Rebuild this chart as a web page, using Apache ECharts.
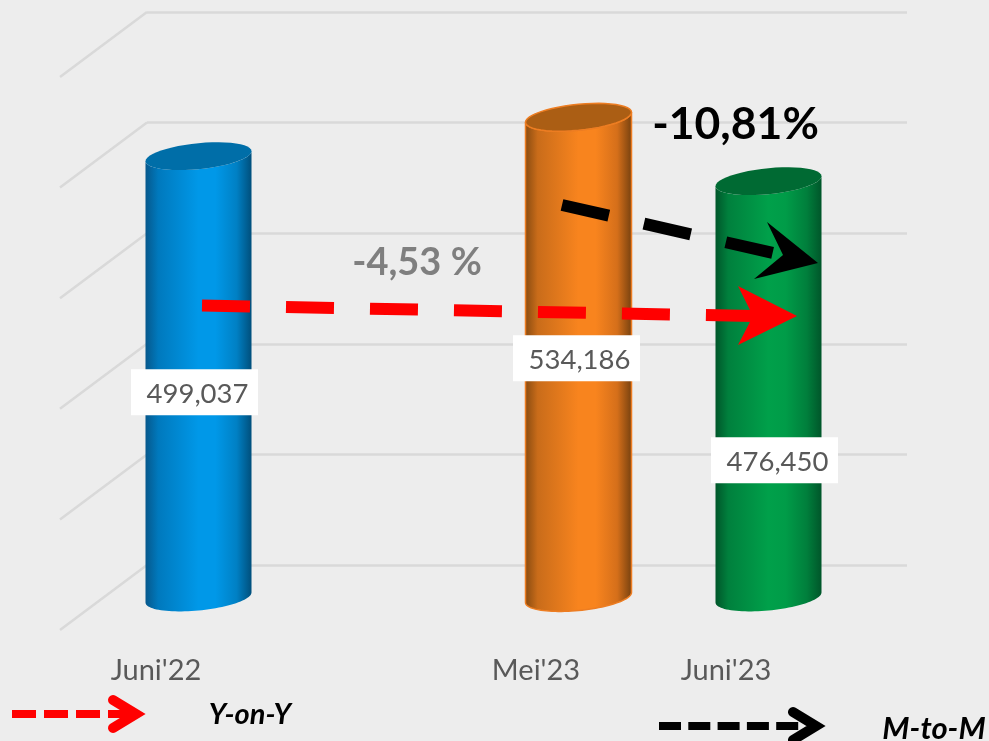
<!DOCTYPE html>
<html>
<head>
<meta charset="utf-8">
<script src="https://cdn.jsdelivr.net/npm/echarts@6/dist/echarts.min.js"></script>
<style>
html, body { margin: 0; padding: 0; background: #ededed; overflow: hidden; }
#chart { width: 989px; height: 741px; }
</style>
</head>
<body>
<div id="chart"></div>
<script>
// data
var categories = ["Juni'22", "", "Mei'23", "Juni'23"];
var values = [499037, null, 534186, 476450];
var yTicks = [100000, 200000, 300000, 400000, 500000, 600000];
var yoyText = "-4,53 %";
var mtmText = "-10,81%";

// look of the fake 3d chart
var depth = [-87, 65]; // floor depth, back wall -> front edge
var cylRadius = 53;
var cylTilt = 5; // right side of the ellipse sits higher
var cylFlat = 13;
var fontName = "Lato, sans-serif";
var stopAt = [0, 0.12, 0.5, 0.66, 0.86, 1];
var cylColors = [
  { stops: ["#06588c", "#0079bd", "#0098e8", "#0098e8", "#0080c4", "#004f7c"], cap: "#006ea8", line: null },
  null,
  { stops: ["#864a10", "#c96c1a", "#f8841e", "#f8841e", "#d56f1a", "#74400f"], cap: "#ab5e14", line: "#ed7d22" },
  { stops: ["#00562a", "#00803d", "#00a04a", "#009c48", "#007f3c", "#00562a"], cap: "#006a33", line: null }
];
var labelShift = [[-4, 236], null, [-2, 241], [6, 279]]; // white box, from the top of the cylinder

function ellipsePoints(cx, cy, from, to) {
  var pts = [];
  for (var n = 0; n <= 48; n++) {
    var t = from + (to - from) * n / 48;
    pts.push([
      cx + cylRadius * Math.cos(t),
      cy - cylTilt * Math.cos(t) + cylFlat * Math.sin(t)
    ]);
  }
  return pts;
}

function renderCylinder(params, api) {
  var idx = api.value(0);
  var val = api.value(1);
  var top = api.coord([idx, val]);
  var base = api.coord([idx, yTicks[0]]);
  var cx = top[0] + depth[0] / 2;
  var topY = top[1] + depth[1] / 2;
  var baseY = base[1] + depth[1] / 2;
  var look = cylColors[idx];
  var shift = labelShift[idx];
  var bodyPts = ellipsePoints(cx, baseY, Math.PI, 0).concat(ellipsePoints(cx, topY, 0, Math.PI));
  var boxX = cx + shift[0];
  var boxY = topY + shift[1];
  var lineStyle = look.line ? { stroke: look.line, lineWidth: 1.5 } : {};
  return {
    type: "group",
    children: [
      {
        type: "polygon",
        shape: { points: bodyPts },
        style: Object.assign({
          fill: new echarts.graphic.LinearGradient(0, 0, 1, 0, look.stops.map(function (c, n) {
            return { offset: stopAt[n], color: c };
          }))
        }, lineStyle)
      },
      {
        type: "polygon",
        shape: { points: ellipsePoints(cx, topY, 0, Math.PI * 2) },
        style: Object.assign({ fill: look.cap }, lineStyle)
      },
      {
        type: "rect",
        shape: { x: boxX - 63.5, y: boxY - 23, width: 127, height: 46 },
        style: { fill: "#ffffff" }
      },
      {
        type: "text",
        style: {
          x: boxX + 3,
          y: boxY + 2,
          text: val.toLocaleString("en-US"),
          fill: "#595959",
          font: "27.5px " + fontName,
          align: "center",
          verticalAlign: "middle"
        }
      }
    ]
  };
}

function renderDiagonal(params, api) {
  var p = api.coord([0, api.value(0)]);
  var x0 = params.coordSys.x;
  return {
    type: "line",
    shape: { x1: x0, y1: p[1], x2: x0 + depth[0], y2: p[1] + depth[1] },
    style: { stroke: "#d9d9d9", lineWidth: 2.5 }
  };
}

function dashLine(x1, y1, x2, y2, color, width, dash) {
  return {
    type: "line",
    z: 100,
    shape: { x1: x1, y1: y1, x2: x2, y2: y2 },
    style: { stroke: color, lineWidth: width, lineDash: dash, lineCap: "butt" }
  };
}
function arrowHead(points, color) {
  return { type: "polygon", z: 100, shape: { points: points }, style: { fill: color } };
}
function chevron(points, color) {
  return {
    type: "polyline",
    z: 100,
    shape: { points: points },
    style: { stroke: color, lineWidth: 10, fill: null, lineCap: "round", lineJoin: "miter" }
  };
}
function note(text, x, y, color, font) {
  return {
    type: "text",
    z: 100,
    style: { x: x, y: y, text: text, fill: color, font: font, align: "center", verticalAlign: "middle" }
  };
}

var option = {
  backgroundColor: "#ededed",
  animation: false,
  grid: { left: 147, right: 82, top: 12, bottom: 176 },
  xAxis: {
    type: "category",
    data: categories,
    axisLine: { show: false },
    axisTick: { show: false },
    axisLabel: {
      interval: 0,
      margin: 91,
      padding: [0, 172, 0, 0],
      color: "#595959",
      fontFamily: fontName,
      fontSize: 29
    }
  },
  yAxis: {
    type: "value",
    min: 100000,
    max: 600000,
    interval: 100000,
    axisLine: { show: false },
    axisTick: { show: false },
    axisLabel: { show: false },
    splitLine: { lineStyle: { color: "#d9d9d9", width: 2.5 } }
  },
  series: [
    {
      type: "custom",
      silent: true,
      data: yTicks.map(function (t) { return [t]; }),
      encode: { y: 0 },
      renderItem: renderDiagonal
    },
    {
      type: "custom",
      silent: true,
      z: 5,
      data: values.map(function (v, i) { return v === null ? null : [i, v]; }).filter(Boolean),
      encode: { x: 0, y: 1 },
      renderItem: renderCylinder
    }
  ],
  graphic: [
    // year on year arrow
    dashLine(202, 305.5, 753, 316, "#ff0000", 12, [48, 36]),
    arrowHead([[738, 286], [797, 316], [738, 345], [753, 316]], "#ff0000"),
    // month to month arrow
    dashLine(562, 205, 773, 253, "#000000", 12, [48, 36]),
    arrowHead([[767, 222], [818, 263], [754, 279], [783, 255]], "#000000"),
    note(yoyText, 417, 263, "#7f7f7f", "bold 38px " + fontName),
    note(mtmText, 735.5, 125, "#000000", "bold 44.5px " + fontName),
    // legend
    dashLine(12, 714, 128, 714, "#ff0000", 8, [24, 8]),
    chevron([[113, 700], [136, 714], [113, 728]], "#ff0000"),
    note("Y-on-Y", 250, 715, "#000000", "italic bold 29px " + fontName),
    dashLine(659, 726, 800, 726, "#000000", 8, [22, 7.3]),
    chevron([[793, 712], [816, 726], [793, 740]], "#000000"),
    note("M-to-M", 934, 729, "#000000", "italic bold 31px " + fontName)
  ]
};

var chart = echarts.init(document.getElementById("chart"));
chart.setOption(option);
</script>
</body>
</html>
